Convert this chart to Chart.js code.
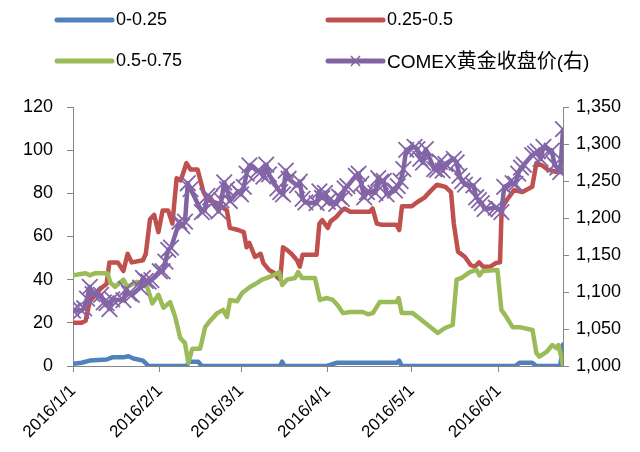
<!DOCTYPE html>
<html><head><meta charset="utf-8">
<script src="https://cdn.jsdelivr.net/npm/chart.js@4.4.1/dist/chart.umd.min.js"></script>
<style>
html,body{margin:0;padding:0;background:#fff;}
#wrap{position:relative;width:640px;height:452px;overflow:hidden;}
canvas{position:absolute;left:0;top:0;}
.lgt{position:absolute;font-size:18px;font-family:"Liberation Sans","Noto Sans CJK SC",sans-serif;color:#000;white-space:nowrap;line-height:22px;}
.lgt .cjk{font-size:20px;font-family:"Noto Sans CJK SC",sans-serif;}
.lgs{position:absolute;}
</style></head>
<body><div id="wrap"><canvas id="c" width="640" height="452"></canvas><div id="legend"></div></div>
<script>
// ---- data (days counted from 2016/1/1) ----
const seriesNames = ['0-0.25', '0.25-0.5', '0.5-0.75', 'COMEX黄金收盘价(右)'];
const tickDays = [0, 31, 60, 91, 121, 152];
const tickLabels = ['2016/1/1', '2016/2/1', '2016/3/1', '2016/4/1', '2016/5/1', '2016/6/1'];

const blueDays = [0,3,6,12,14,18,19.8,21.6,25,27,40.5,41.5,44.7,46,74,74.7,75.5,90.7,94.3,115.6,116.5,117.4,158,159.5,164,165.5,174,175];
const blueVals = [1,1.5,2.5,3,4,4,4.5,3.5,2.5,0,0,2,2,0,0,2,0,0,1.5,1.5,2.5,0,0,1.5,1.5,0,0,10];

const redDays = [0,3,4.5,6,8,10,12,13,16,18,19.5,21,25,26,27.5,29,30.5,32,34,35.5,37,38.5,40.5,42,44.5,46.5,48,51.5,55,56,59,61,62,63,65,67,68,70,72,73,74,75,76.5,78,80,81,82,87,88,89,91,92,94,96,97,99,106,107,108.5,110,115.5,116.5,117.5,121,123,125.5,128,130,133,135,136,137.5,140,142,143.5,145,146.5,149,151,152.5,153,153.5,155,157.5,160.5,164,165.5,167.5,169.5,172.5,175];
const redVals = [20,20,21,30,33,36,38,48,48,44,52,48,49,52,68,70,62,72,72,66,87,86,94,91,91,81,77,75.5,72,64,63,62,55,57,50.5,52,47.7,44.5,43,41,40,55,53.7,52,49,46,51.5,51.5,66,67.6,64,67,69,72,73,71.5,71.5,73,66,65.5,65.5,63,74,74,76,78,81.5,84,83,80.6,66,53,50.5,46.8,46,48,46,46,47.7,48,69,74,77,81.5,80.6,83,94,93,91,90,91];

const greenDays = [0,4.5,6,8,12.3,13.4,15,18,19.4,23,26.5,28.3,30.5,32.3,34.7,36.5,38.3,40,41.2,42.6,45.4,47.2,49,51.5,53.6,55,56.1,58.6,60.4,63.3,65.8,67.5,69.3,71.5,73.6,74.7,76.4,79.3,80.4,81.8,86.4,88.2,90.7,92.8,94.6,96.4,99,103.5,105.3,107.1,109.6,115.6,116.3,117.4,121.3,123.8,126.7,130.3,132.8,135.6,137,138.8,141.7,144.2,145.2,146.3,151.6,153,154.8,157,159.5,164.1,165.5,166.6,169.1,171.2,172.7,173.4,175];
const greenVals = [42,43,42,43,43,38.5,36.7,40,36.7,39,36.7,29,33,27,29.6,22.7,13,10.6,1.4,8,8,18,21,24.5,26,22.7,30.6,30,33.8,36.7,38.5,40,40.8,42,43.5,37.5,40,40.8,43.5,40.8,40.8,30.6,31.5,30.6,28,24.5,25,25,24,24.5,29.7,29.7,31.5,24.5,24.5,22,19,15.3,17.6,19,40,40.8,43.5,44.5,42,44,44.5,26,22.7,18,18,16.7,6,4.3,6.5,9.7,8.3,9.7,0.5];

const goldDays = [0,3,4,5,6,7,10,11,12,13,14,18,19,20,21,24,25,26,27,28,31,32,33,34,35,38,39,40,41,42,46,47,48,49,52,53,54,55,56,59,60,61,62,63,66,67,68,69,70,73,74,75,76,77,80,81,82,83,87,88,89,90,91,94,95,96,97,98,101,102,103,104,105,108,109,110,111,112,115,116,117,118,119,122,123,124,125,126,129,130,131,132,133,136,137,138,139,140,143,144,145,146,147,151,152,153,154,157,158,159,160,161,164,165,166,167,168,171,172,173,174,175];
const goldVals = [1075,1075,1078,1091,1107,1097,1096,1086,1085,1077,1090,1089,1104,1098,1096,1106,1119,1115,1114,1116,1128,1128,1141,1157,1160,1195,1189,1195,1247,1239,1208,1210,1230,1228,1209,1224,1248,1239,1223,1236,1232,1242,1260,1271,1264,1262,1256,1272,1259,1240,1235,1232,1264,1253,1244,1249,1226,1221,1220,1236,1227,1234,1222,1219,1229,1226,1240,1243,1257,1260,1246,1228,1235,1234,1254,1249,1250,1232,1237,1243,1250,1266,1292,1296,1293,1280,1275,1293,1266,1265,1276,1264,1273,1280,1275,1257,1250,1245,1244,1228,1224,1220,1212,1214,1212,1208,1242,1247,1246,1260,1268,1272,1285,1287,1290,1280,1296,1291,1272,1268,1262,1320];

const colors = ['#4F81BD', '#C0504D', '#9BBB59', '#8064A2'];

function pts(days, vals) { return days.map((d, i) => ({ x: d, y: vals[i] })); }

// ---- legend (HTML text) ----
const legendItems = [
  { lx: 57, y: 20, tx: 116 }, { lx: 328, y: 20, tx: 387 },
  { lx: 57, y: 61, tx: 116 }, { lx: 328, y: 61, tx: 387 }
];
const lg = document.getElementById('legend');
legendItems.forEach((it, i) => {
  const s = document.createElementNS('http://www.w3.org/2000/svg', 'svg');
  s.setAttribute('width', '64'); s.setAttribute('height', '20');
  s.setAttribute('class', 'lgs');
  s.style.left = (it.lx - 4) + 'px'; s.style.top = (it.y - 10) + 'px';
  let inner = `<line x1="4" y1="10" x2="59" y2="10" stroke="${colors[i]}" stroke-width="5" stroke-linecap="round"/>`;
  if (i === 3) {
    inner += `<line x1="27" y1="5" x2="36" y2="15" stroke="${colors[i]}" stroke-width="1.5"/><line x1="27" y1="15" x2="36" y2="5" stroke="${colors[i]}" stroke-width="1.5"/>`;
  }
  s.innerHTML = inner;
  lg.appendChild(s);
  const t = document.createElement('div');
  t.className = 'lgt';
  if (i === 3) t.style.fontSize = '19px';
  seriesNames[i].split(/([\u4e00-\u9fff]+)/).forEach(part => {
    if (!part) return;
    if (/[\u4e00-\u9fff]/.test(part)) {
      const sp = document.createElement('span'); sp.className = 'cjk'; sp.textContent = part; t.appendChild(sp);
    } else {
      t.appendChild(document.createTextNode(part));
    }
  });
  t.style.left = it.tx + 'px'; t.style.top = (it.y - 12) + 'px';
  lg.appendChild(t);
});

// ---- chart ----
Chart.defaults.font.family = '"Liberation Sans", sans-serif';
Chart.defaults.font.size = 18;
Chart.defaults.color = '#000';
const axisColor = '#868686';

const lineDs = (i, data, order) => ({
  label: seriesNames[i], data, yAxisID: 'y', borderColor: colors[i], backgroundColor: colors[i],
  borderWidth: 4.5, pointRadius: 0, tension: 0, order, borderJoinStyle: 'round', borderCapStyle: 'round'
});

new Chart(document.getElementById('c'), {
  type: 'line',
  data: {
    datasets: [
      lineDs(0, pts(blueDays, blueVals), 4),
      lineDs(1, pts(redDays, redVals), 3),
      lineDs(2, pts(greenDays, greenVals), 2),
      {
        label: seriesNames[3], data: pts(goldDays, goldVals), yAxisID: 'y2',
        borderColor: colors[3], backgroundColor: colors[3], borderWidth: 4.5, tension: 0,
        pointStyle: 'crossRot', pointRadius: 11, pointBorderWidth: 1.8, pointBorderColor: '#8466a8',
        order: 1, borderJoinStyle: 'round'
      }
    ]
  },
  options: {
    responsive: false, animation: false, devicePixelRatio: 1,
    layout: { padding: { top: 107, left: 0, right: 0, bottom: 0 } },
    plugins: { legend: { display: false }, tooltip: { enabled: false } },
    scales: {
      x: {
        type: 'linear', min: 0, max: 175,
        afterBuildTicks: (s) => { s.ticks = tickDays.map(v => ({ value: v })); },
        afterFit: (s) => { s.height = 86; },
        ticks: { callback: (v, idx) => tickLabels[idx], autoSkip: false, maxRotation: 45, minRotation: 45, padding: 9, font: { size: 17 } },
        grid: { drawOnChartArea: false, drawTicks: true, tickLength: 6, color: axisColor },
        border: { color: axisColor, width: 1 }
      },
      y: {
        position: 'left', min: 0, max: 120,
        afterFit: (s) => { s.width = 73; },
        ticks: { stepSize: 20, padding: 14 },
        grid: { drawOnChartArea: false, drawTicks: true, tickLength: 6, color: axisColor },
        border: { color: axisColor, width: 1 }
      },
      y2: {
        position: 'right', min: 1000, max: 1350,
        afterFit: (s) => { s.width = 77; },
        ticks: { stepSize: 50, padding: 7, callback: (v) => v.toLocaleString('en-US') },
        grid: { drawOnChartArea: false, drawTicks: true, tickLength: 6, color: axisColor },
        border: { color: axisColor, width: 1 }
      }
    }
  }
});
</script>
</body></html>
